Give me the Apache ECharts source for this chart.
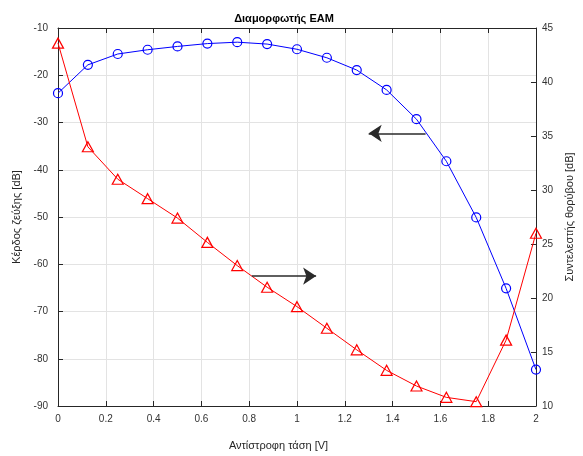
<!DOCTYPE html>
<html>
<head>
<meta charset="utf-8">
<script src="https://cdn.jsdelivr.net/npm/echarts@6/dist/echarts.min.js"></script>
<style>html,body{margin:0;padding:0;background:#fff}#c{width:583px;height:456px}</style>
</head>
<body>
<div id="c"></div>
<script>
// Reverse bias voltage [V]
var voltage = [0, 0.125, 0.25, 0.375, 0.5, 0.625, 0.75, 0.875, 1, 1.125, 1.25, 1.375, 1.5, 1.625, 1.75, 1.875, 2];
// Link gain [dB] (left axis)
var linkGain = [-23.8, -17.8, -15.5, -14.6, -13.9, -13.3, -13.0, -13.4, -14.5, -16.3, -18.9, -23.1, -29.3, -38.2, -50.1, -65.1, -82.3];
// Noise figure [dB] (right axis)
var noiseFigure = [43.6, 34.0, 31.0, 29.2, 27.4, 25.15, 23.0, 21.0, 19.2, 17.2, 15.2, 13.3, 11.85, 10.8, 10.4, 16.1, 26.0];
// annotation arrows, in data coords of x / left axis: [x0, y0, x1, y1]
var arrowToLeft = [1.538, -32.3, 1.30, -32.3];
var arrowToRight = [0.811, -62.5, 1.08, -62.5];

var titleText = 'Διαμορφωτής EAM';
var xName = 'Αντίστροφη τάση [V]';
var yLeftName = 'Κέρδος ζεύξης [dB]';
var yRightName = 'Συντελεστής θορύβου [dB]';

function pairs(xs, ys) { return xs.map(function (x, i) { return [x, ys[i]]; }); }

var font = 'Liberation Sans, Arial, Helvetica, sans-serif';
var axisCol = '#262626';
var chart = echarts.init(document.getElementById('c'), null, { renderer: 'canvas' });
chart.setOption({
  animation: false,
  backgroundColor: '#fff',
  title: {
    text: titleText, left: 279, top: 8, textAlign: 'center',
    textStyle: { fontFamily: font, fontSize: 11, fontWeight: 'bold', color: '#000' }
  },
  grid: { left: 58, right: 44, top: 28, bottom: 48 },
  xAxis: [{
    type: 'value', min: 0, max: 2, interval: 0.2,
    name: xName, nameLocation: 'middle', nameGap: 34,
    nameTextStyle: { fontFamily: font, fontSize: 11, color: axisCol, padding: [0, 37, 0, 0] },
    axisLine: { show: true, onZero: false, lineStyle: { color: axisCol, width: 1 } },
    axisTick: { show: true, inside: true, length: 5, lineStyle: { color: axisCol } },
    axisLabel: { fontFamily: font, fontSize: 10, color: '#333', margin: 8 },
    splitLine: { show: true, lineStyle: { color: '#e3e3e3', width: 1 } }
  }, {
    type: 'value', min: 0, max: 2, interval: 0.2, position: 'top',
    axisLine: { show: true, onZero: false, lineStyle: { color: axisCol, width: 1 } },
    axisTick: { show: true, inside: true, length: 5, lineStyle: { color: axisCol } },
    axisLabel: { show: false }, splitLine: { show: false }
  }],
  yAxis: [{
    type: 'value', min: -90, max: -10, interval: 10, position: 'left',
    name: yLeftName, nameLocation: 'middle', nameGap: 33, nameRotate: 90,
    nameTextStyle: { fontFamily: font, fontSize: 11, color: axisCol },
    axisLine: { show: true, onZero: false, lineStyle: { color: axisCol, width: 1 } },
    axisTick: { show: true, inside: true, length: 5, lineStyle: { color: axisCol } },
    axisLabel: { fontFamily: font, fontSize: 10, color: '#333', margin: 10 },
    splitLine: { show: true, lineStyle: { color: '#e3e3e3', width: 1 } }
  }, {
    type: 'value', min: 10, max: 45, interval: 5, position: 'right',
    name: yRightName, nameLocation: 'middle', nameGap: 24, nameRotate: 90,
    nameTextStyle: { fontFamily: font, fontSize: 11, color: axisCol },
    axisLine: { show: true, onZero: false, lineStyle: { color: axisCol, width: 1 } },
    axisTick: { show: true, inside: true, length: 5, lineStyle: { color: axisCol } },
    axisLabel: { fontFamily: font, fontSize: 10, color: '#333', margin: 6 },
    splitLine: { show: false }
  }],
  series: [{
    type: 'line', xAxisIndex: 0, yAxisIndex: 0,
    data: pairs(voltage, linkGain),
    symbol: 'circle', symbolSize: 9, showAllSymbol: true,
    lineStyle: { color: '#0000ff', width: 1 },
    itemStyle: { color: 'rgba(255,255,255,0)', borderColor: '#0000ff', borderWidth: 1.2 },
    z: 3,
    markLine: {
      silent: true, symbol: ['none', 'arrow'], symbolSize: 13,
      label: { show: false },
      lineStyle: { color: '#2a2a2a', width: 1.5, type: 'solid' },
      emphasis: { disabled: true },
      data: [
        [{ coord: [arrowToLeft[0], arrowToLeft[1]] }, { coord: [arrowToLeft[2], arrowToLeft[3]] }],
        [{ coord: [arrowToRight[0], arrowToRight[1]] }, { coord: [arrowToRight[2], arrowToRight[3]] }]
      ]
    }
  }, {
    type: 'line', xAxisIndex: 0, yAxisIndex: 1,
    data: pairs(voltage, noiseFigure),
    symbol: 'triangle', symbolSize: [11, 10], showAllSymbol: true,
    lineStyle: { color: '#ff0000', width: 1 },
    itemStyle: { color: 'rgba(255,255,255,0)', borderColor: '#ff0000', borderWidth: 1.2 },
    z: 4
  }]
});
</script>
</body>
</html>
